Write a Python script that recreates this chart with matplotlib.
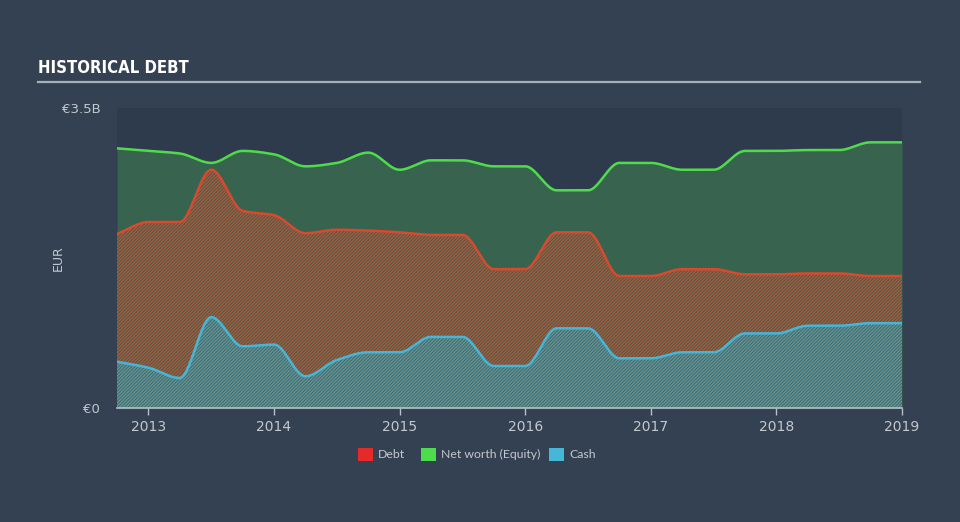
import numpy as np
import matplotlib
matplotlib.use('Agg')
import matplotlib.pyplot as plt
from matplotlib.patches import Rectangle

# quarterly dates (decimal years)
dates = [2012.75, 2013.0, 2013.25, 2013.5, 2013.75, 2014.0, 2014.25, 2014.5, 2014.75,
         2015.0, 2015.25, 2015.5, 2015.75, 2016.0, 2016.25, 2016.5, 2016.75,
         2017.0, 2017.25, 2017.5, 2017.75, 2018.0, 2018.25, 2018.5, 2018.75, 2019.0]

# values in EUR billions
equity = [3.03, 3.00, 2.97, 2.86, 3.00, 2.96, 2.82, 2.86, 2.98,
          2.78, 2.89, 2.89, 2.82, 2.82, 2.54, 2.54, 2.86,
          2.86, 2.78, 2.78, 3.00, 3.00, 3.01, 3.01, 3.10, 3.10]
debt = [2.03, 2.17, 2.17, 2.78, 2.30, 2.25, 2.04, 2.08, 2.07,
        2.05, 2.02, 2.02, 1.62, 1.62, 2.05, 2.05, 1.54,
        1.54, 1.62, 1.62, 1.56, 1.56, 1.57, 1.57, 1.54, 1.54]
cash = [0.54, 0.47, 0.35, 1.06, 0.72, 0.74, 0.37, 0.56, 0.65,
        0.65, 0.83, 0.83, 0.49, 0.49, 0.93, 0.93, 0.58,
        0.58, 0.65, 0.65, 0.87, 0.87, 0.96, 0.96, 0.99, 0.99]

years = [2013, 2014, 2015, 2016, 2017, 2018, 2019]

BG = '#344152'
PLOT_BG = '#2e3b4c'
TXT = '#c3c8cf'


def monotone(x, y, n=1200):
    # Fritsch-Carlson monotone cubic, like the smoothed lines in the original
    x = np.asarray(x, float)
    y = np.asarray(y, float)
    h = np.diff(x)
    d = np.diff(y) / h
    m = np.zeros_like(y)
    m[0], m[-1] = d[0], d[-1]
    for i in range(1, len(y) - 1):
        if d[i - 1] * d[i] <= 0:
            m[i] = 0
        else:
            w1 = 2 * h[i] + h[i - 1]
            w2 = h[i] + 2 * h[i - 1]
            m[i] = (w1 + w2) / (w1 / d[i - 1] + w2 / d[i])
    xs = np.linspace(x[0], x[-1], n)
    idx = np.clip(np.searchsorted(x, xs) - 1, 0, len(x) - 2)
    t = (xs - x[idx]) / h[idx]
    h00 = 2 * t**3 - 3 * t**2 + 1
    h10 = t**3 - 2 * t**2 + t
    h01 = -2 * t**3 + 3 * t**2
    h11 = t**3 - t**2
    ys = h00 * y[idx] + h10 * h[idx] * m[idx] + h01 * y[idx + 1] + h11 * h[idx] * m[idx + 1]
    return xs, ys


plt.rcParams['hatch.linewidth'] = 0.7

fig = plt.figure(figsize=(9.6, 5.22), dpi=100, facecolor=BG)
ax = fig.add_axes([0.1219, 0.2184, 0.8177, 0.5746])
ax.set_facecolor(PLOT_BG)

xe, ye = monotone(dates, equity)
xd, yd = monotone(dates, debt)
xc, yc = monotone(dates, cash)

ax.fill_between(xe, 0, ye, color='#38644f', linewidth=0)
ax.fill_between(xd, 0, yd, facecolor='#5a5a45', edgecolor='#b65a3e', hatch='//////////', linewidth=0)
ax.fill_between(xc, 0, yc, facecolor='#4f6e66', edgecolor='#5d9fae', hatch='//////////', linewidth=0)

ax.plot(xe, ye, color='#4fdc4a', lw=1.8)
ax.plot(xd, yd, color='#d9492d', lw=1.8)
ax.plot(xc, yc, color='#46b6d8', lw=1.8)

ax.set_xlim(dates[0], 2019.0)
ax.set_ylim(0, 3.5)
for s in ['top', 'right', 'left']:
    ax.spines[s].set_visible(False)
ax.spines['bottom'].set_color('#b8c0ca')
ax.spines['bottom'].set_linewidth(1.2)

ax.set_xticks(years)
ax.set_xticklabels([str(y) for y in years])
ax.tick_params(axis='x', colors='#b8c0ca', labelcolor=TXT, labelsize=10, length=5, width=1)
ax.set_yticks([0, 3.5])
ax.set_yticklabels(['€0', '€3.5B'])
ax.tick_params(axis='y', length=0, labelcolor=TXT, labelsize=9.5, pad=12)
ax.set_ylabel('EUR', color=TXT, fontsize=9)
ax.yaxis.set_label_coords(-0.066, 0.5)

fig.text(0.040, 0.869, 'HISTORICAL DEBT', color='white', fontsize=12, fontweight='bold',
         fontstretch='condensed', family='DejaVu Sans', va='center')
fig.add_artist(plt.Line2D([0.040, 0.958], [0.843, 0.843], color='#a9afb8', lw=1.6))

# legend
items = [('Debt', '#e52a2a', 0.373), ('Net worth (Equity)', '#4cdc4c', 0.4385), ('Cash', '#47b7d9', 0.572)]
for label, col, x0 in items:
    fig.add_artist(Rectangle((x0, 0.117), 0.0160, 0.025, transform=fig.transFigure,
                             facecolor=col, edgecolor='none'))
    fig.text(x0 + 0.021, 0.129, label, color=TXT, fontsize=8.8, family='Lato', va='center')

fig.savefig('out.png', dpi=100, facecolor=BG)
